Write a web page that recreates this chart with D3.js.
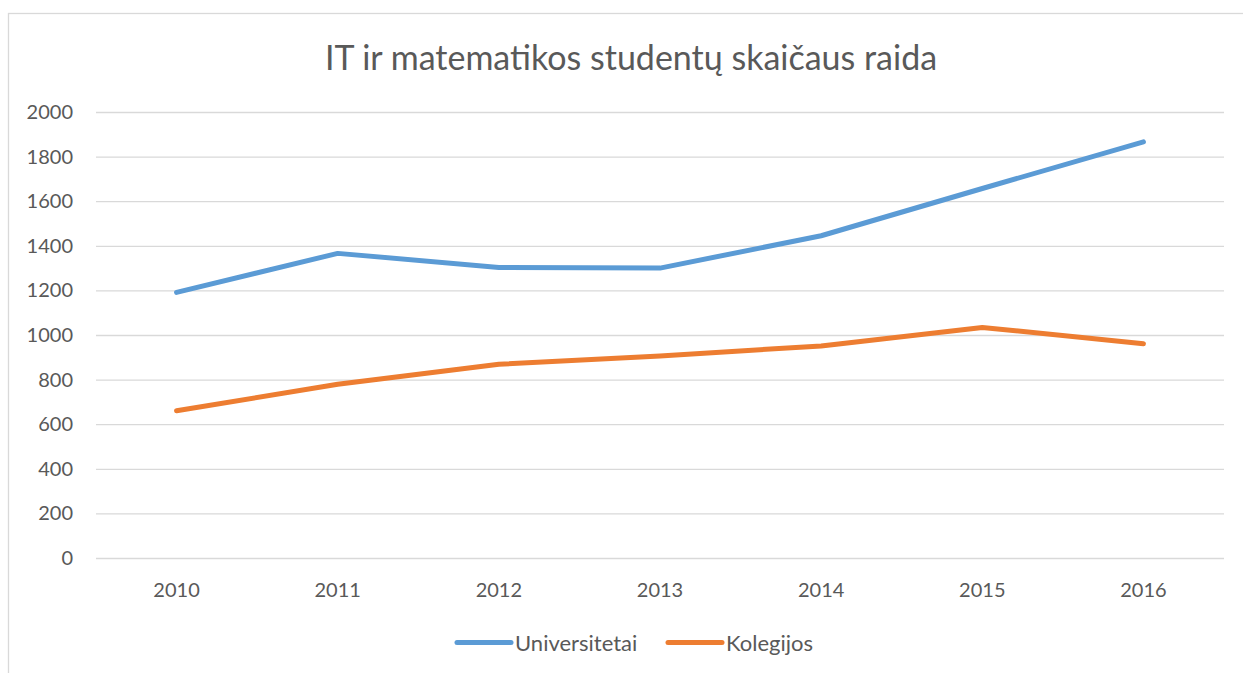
<html>
<script src="https://d3js.org/d3.v7.min.js"></script>
<style>
body{margin:0;background:#fff;}
svg{display:block;}
text{font-family:Lato, "Open Sans", sans-serif;fill:#595959;}
</style>
<div class="chart"></div>
<script>
const years = ['2010','2011','2012','2013','2014','2015','2016'];
const universitetai = [1191, 1366, 1303, 1300, 1445, 1657, 1866];
const kolegijos = [660, 779, 869, 906, 951, 1034, 961];
const yTicks = [0,200,400,600,800,1000,1200,1400,1600,1800,2000];
const seriesNames = ['Universitetai','Kolegijos'];
const colors = ['#5B9BD5','#ED7D31'];

const width = 1243;
const height = 673;
const margin = {top:112, left:96, bottom:115, right:19};
const plotWidth = width - (margin.left+margin.right);
const plotHeight = height - (margin.top+margin.bottom);

const svg = d3.select('.chart')
  .append('svg')
    .attr('width', width)
    .attr('height', height);

// chart frame
svg.append('rect')
  .attr('x', 8.5).attr('y', 13.5)
  .attr('width', 1300).attr('height', 800)
  .attr('fill', 'none')
  .attr('stroke', '#d9d9d9')
  .attr('stroke-width', 1.3);

svg.append('text')
  .attr('x', 631).attr('y', 70)
  .attr('text-anchor', 'middle')
  .attr('font-size', 34)
  .text('IT ir matematikos studentų skaičaus raida');

const xScale = d3.scaleBand()
  .domain(years)
  .range([0, plotWidth]);

const yScale = d3.scaleLinear()
  .domain([0, 2000])
  .range([plotHeight, 0]);

const g = svg.append('g')
  .attr('transform', `translate(${margin.left},${margin.top})`);

const yAxis = g.append('g')
  .call(d3.axisLeft(yScale).tickValues(yTicks).tickFormat(d3.format('d'))
    .tickSize(-plotWidth).tickPadding(23));
yAxis.select('.domain').remove();
yAxis.selectAll('.tick line').attr('stroke', '#d9d9d9').attr('stroke-width', 1.3);
yAxis.selectAll('.tick text').attr('font-size', 20).attr('fill', '#595959')
  .style('font-family', 'Lato, "Open Sans", sans-serif');

const xAxis = g.append('g')
  .attr('transform', `translate(0,${plotHeight})`)
  .call(d3.axisBottom(xScale).tickSize(0).tickPadding(25));
xAxis.select('.domain').remove();
xAxis.selectAll('.tick text').attr('font-size', 20).attr('fill', '#595959')
  .style('font-family', 'Lato, "Open Sans", sans-serif');

const line = d3.line()
  .x((d,i)=>xScale(years[i]) + xScale.bandwidth()/2)
  .y(d=>yScale(d));

g.selectAll('path.series')
  .data([universitetai, kolegijos])
  .enter()
  .append('path')
    .attr('class', 'series')
    .attr('d', line)
    .attr('fill', 'none')
    .attr('stroke', (d,i)=>colors[i])
    .attr('stroke-width', 5)
    .attr('stroke-linecap', 'round')
    .attr('stroke-linejoin', 'round');

// legend
const legendX = [457, 668];
const legend = svg.selectAll('g.legend')
  .data(seriesNames)
  .enter()
  .append('g')
    .attr('class', 'legend')
    .attr('transform', (d,i)=>`translate(${legendX[i]},642.5)`);
legend.append('line')
  .attr('x1', 0).attr('x2', 54)
  .attr('stroke', (d,i)=>colors[i])
  .attr('stroke-width', 5)
  .attr('stroke-linecap', 'round');
legend.append('text')
  .attr('x', 58).attr('y', 8)
  .attr('font-size', 22)
  .text(d=>d);
</script>
</html>
